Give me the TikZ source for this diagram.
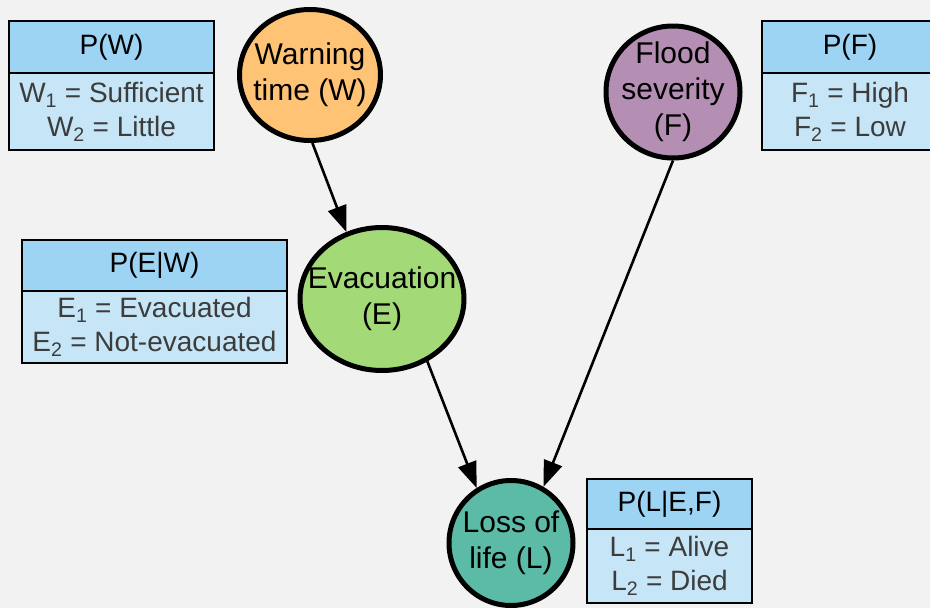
\documentclass[tikz,border=0pt]{standalone}
\usepackage{fontspec}
\setmainfont{Liberation Sans}
\usetikzlibrary{arrows.meta,positioning,shapes.geometric}

\definecolor{bgcol}{HTML}{F2F2F2}
\definecolor{headblue}{HTML}{9DD3F3}
\definecolor{bodyblue}{HTML}{C6E6F7}
\definecolor{warncol}{HTML}{FFC376}
\definecolor{floodcol}{HTML}{B48FB3}
\definecolor{evaccol}{HTML}{A3D977}
\definecolor{losscol}{HTML}{5BBBA6}
\definecolor{rowtext}{HTML}{3C3C3C}

\begin{document}
\begin{tikzpicture}[x=1pt,y=-1pt,->,>={Triangle[length=26pt,width=19pt]},line width=2.6pt,
                    var node/.style={ellipse,draw,line width=5pt,inner sep=0pt},
                    var text/.style={align=center,inner sep=0pt,font=\fontsize{30}{36}\selectfont},
                    head node/.style={rectangle,draw,line width=1.2pt,outer sep=0pt,fill=headblue,inner sep=0pt,font=\fontsize{28}{34}\selectfont},
                    body node/.style={rectangle,draw,line width=1.2pt,outer sep=0pt,fill=bodyblue,inner sep=0pt,align=center,text=rowtext,font=\fontsize{28}{34}\selectfont}]

  \fill[bgcol,-] (0,0) rectangle (930,608);
  \useasboundingbox (0,0) rectangle (930,608);

  % variables
  \node[var node,fill=warncol,minimum width=141pt,minimum height=131pt,label={[var text]center:{Warning\\time (W)}}] (W) at (310,75) {};
  \node[var node,fill=floodcol,minimum width=134pt,minimum height=132pt,label={[var text]center:{Flood\\severity\\(F)}}] (F) at (673,92) {};
  \node[var node,fill=evaccol,minimum width=164pt,minimum height=143pt,label={[var text]center:{Evacuation\\(E)}}] (E) at (382,299) {};
  \node[var node,fill=losscol,minimum width=124pt,minimum height=125pt,label={[var text]center:{Loss of\\life (L)}}] (L) at (511,543) {};

  % probability tables
  \node[head node,minimum width=205pt,minimum height=52pt] (PW) at (111.5,47) {P(W)};
  \node[body node,minimum width=205pt,minimum height=77pt,below=0pt of PW] (PWb) {W\textsubscript{1} = Sufficient\\W\textsubscript{2} = Little};

  \node[head node,minimum width=176pt,minimum height=52pt] (PF) at (850,47) {P(F)};
  \node[body node,minimum width=176pt,minimum height=77pt,below=0pt of PF] (PFb) {F\textsubscript{1} = High\\F\textsubscript{2} = Low};

  \node[head node,minimum width=265pt,minimum height=51pt] (PE) at (154.5,265.5) {P(E|W)};
  \node[body node,minimum width=265pt,minimum height=72pt,below=0pt of PE] (PEb) {E\textsubscript{1} = Evacuated\\E\textsubscript{2} = Not-evacuated};

  \node[head node,minimum width=165pt,minimum height=50pt] (PL) at (669.5,504) {P(L|E,F)};
  \node[body node,minimum width=165pt,minimum height=74pt,below=0pt of PL] (PLb) {L\textsubscript{1} = Alive\\L\textsubscript{2} = Died};

  \path (W.272) edge (E.118)
        (E.306) edge (L.122)
        (F.270) edge (L.60)
    ;
\end{tikzpicture}
\end{document}
